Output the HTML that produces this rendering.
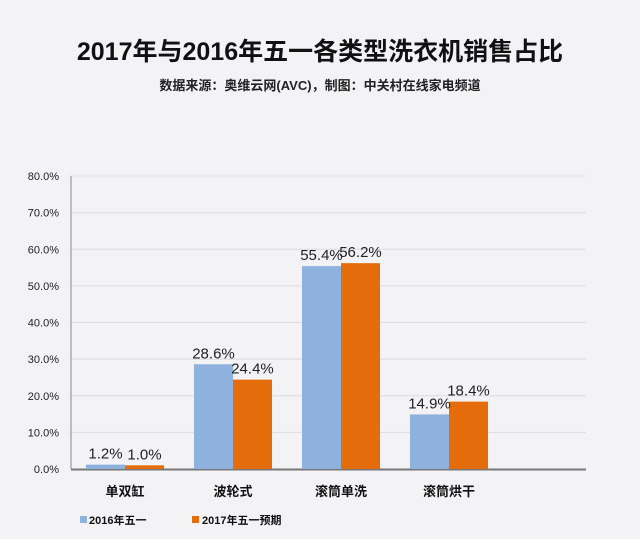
<!DOCTYPE html>
<html><head><meta charset="utf-8"><style>
body{margin:0;background:#f3f3f5;}
svg{display:block;font-family:"Liberation Sans","Noto Sans CJK SC",sans-serif;}
</style></head><body>
<svg width="640" height="539">
<rect width="640" height="539" fill="#f3f3f5"/>
<text x="320" y="60" text-anchor="middle" font-size="25" font-weight="bold" fill="#111">2017年与2016年五一各类型洗衣机销售占比</text>
<text x="320" y="90" text-anchor="middle" font-size="13" font-weight="bold" fill="#222">数据来源：奥维云网(AVC)，制图：中关村在线家电频道</text>
<g id="grid"></g><g id="bars"></g><g id="labels"></g>
<g>
<rect x="80" y="516" width="7" height="7" fill="#8eb1dd"/>
<text x="89" y="524" font-size="11" font-weight="bold" fill="#111">2016年五一</text>
<rect x="192" y="516" width="7" height="7" fill="#e46c0a"/>
<text x="202" y="524" font-size="11" font-weight="bold" fill="#111">2017年五一预期</text>
</g>
</svg>
<script>
const categories=["单双缸","波轮式","滚筒单洗","滚筒烘干"];
const series2016=[1.2,28.6,55.4,14.9];
const series2017=[1.0,24.4,56.2,18.4];
const ticks=[0,10,20,30,40,50,60,70,80];
const NS="http://www.w3.org/2000/svg";
const x0=71,x1=586,yb=469,yt=176,ymax=80;
const band=108,bw=39;
const y=v=>yb-(v/ymax)*(yb-yt);
function mk(t,a,p){const e=document.createElementNS(NS,t);for(const k in a)e.setAttribute(k,a[k]);document.getElementById(p).appendChild(e);return e;}
ticks.forEach(t=>{
 if(t>0){const l=mk('line',{x1:x0,x2:x1,y1:y(t),y2:y(t),stroke:'#dcdce0','stroke-width':1},'grid');
 
 }
 const tx=mk('text',{x:59,y:y(t)+4,'text-anchor':'end','font-size':11,fill:'#222'},'grid');tx.textContent=t.toFixed(1)+'%';
 
 
});
const ax=mk('line',{x1:x0,x2:x0,y1:yt,y2:yb,stroke:'#888','stroke-width':1},'grid');


const xa=mk('line',{x1:x0,x2:x1,y1:yb+0.5,y2:yb+0.5,stroke:'#777','stroke-width':2},'grid');


categories.forEach((c,i)=>{
 const cx=x0+band*(i+0.5);
 const t=mk('text',{x:cx,y:496,'text-anchor':'middle','font-size':13,'font-weight':'bold',fill:'#111'},'labels');t.textContent=c;
 
 
 [[series2016,'#8eb1dd',-bw],[series2017,'#e46c0a',0]].forEach(([s,col,off])=>{
  const v=s[i];
  const r=mk('rect',{x:cx+off,y:y(v),width:bw,height:yb-y(v),fill:col},'bars');
  
  
  const t2=mk('text',{x:cx+off+bw/2,y:y(v)-6,'text-anchor':'middle','font-size':15,fill:'#222'},'labels');t2.textContent=v.toFixed(1)+'%';
  
  
 });
});
</script>
</body></html>
